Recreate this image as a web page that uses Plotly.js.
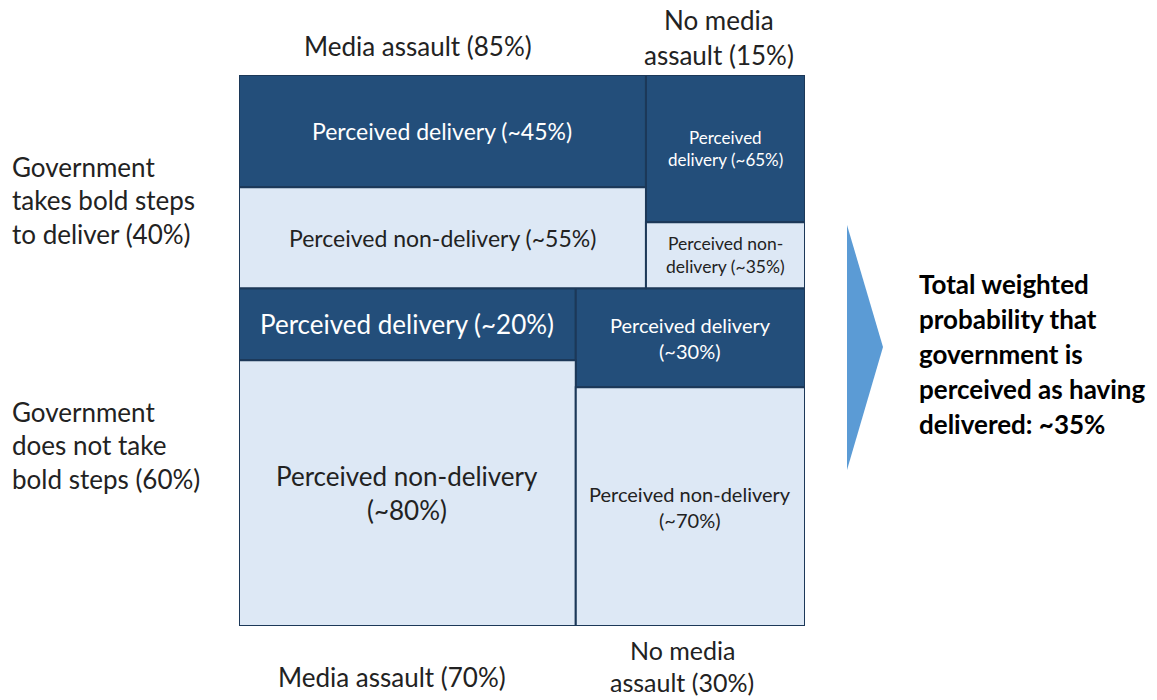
<!DOCTYPE html>
<html>
<head>
<meta charset="utf-8">
<script src="https://cdn.plot.ly/plotly-3.0.1.min.js"></script>
<style>
  html, body { margin: 0; padding: 0; background: #fff; }
  #chart { width: 1157px; height: 700px; }
</style>
</head>
<body>
<div id="chart"></div>
<script>
// --- data ---
// row heights and cell widths are the shares as drawn (in %), labels carry the stated values
const rowLabels = [
  ['Government', 'takes bold steps', 'to deliver (40%)'],
  ['Government', 'does not take', 'bold steps (60%)']
];
const rowShares = [38.7, 61.3];
const topMediaLabels = [['Media assault (85%)'], ['No media', 'assault (15%)']];
const bottomMediaLabels = [['Media assault (70%)'], ['No media', 'assault (30%)']];
const colShares = [[71.9, 28.1], [59.5, 40.5]];
const deliveryShares = [[52.6, 69.0], [21.3, 29.3]];
const deliveryLabels = [
  [['Perceived delivery (~45%)'], ['Perceived', 'delivery (~65%)']],
  [['Perceived delivery (~20%)'], ['Perceived delivery', '(~30%)']]
];
const nonDeliveryLabels = [
  [['Perceived non-delivery (~55%)'], ['Perceived non-', 'delivery (~35%)']],
  [['Perceived non-delivery', '(~80%)'], ['Perceived non-delivery', '(~70%)']]
];
const totalText = ['Total weighted', 'probability that', 'government is', 'perceived as having', 'delivered: ~35%'];

// --- styles ---
const FONT = 'Lato, "Open Sans", sans-serif';
const DARK = '#234e7a';
const LIGHT = '#dde8f5';
const EDGE = '#1c3858';
const INK = '#222';
// font size per cell [row][col]
const deliveryFont = [[23, 17], [26, 20]];
const nonDeliveryFont = [[23, 17.5], [26, 20]];
const SIDE = 26;

// paper coords of the plot box: x 239..805, y 75..626 px
const PX = px => (px - 239) / 566;
const PY = py => (626 - py) / 551;

// --- rectangles from the shares ---
const dlv = { x: [], width: [], base: [], y: [] };
const non = { x: [], width: [], base: [], y: [] };
const annotations = [];

function addLines(lines, opts) {
  const n = lines.length;
  const gap = opts.gap || opts.size * 1.3;
  lines.forEach((t, i) => {
    annotations.push({
      xref: opts.xref || 'x', yref: opts.yref || 'y',
      x: opts.x, y: opts.y,
      xanchor: opts.xanchor || 'center', yanchor: 'middle',
      yshift: -(i - (n - 1) / 2) * gap,
      text: opts.bold ? '<b>' + t + '</b>' : t,
      showarrow: false,
      font: { family: FONT, size: opts.size, color: opts.color || INK }
    });
  });
}

let y0 = 0;
rowShares.forEach((rh, r) => {
  let x0 = 0;
  colShares[r].forEach((cw, c) => {
    const dh = rh * deliveryShares[r][c] / 100;
    const cx = x0 + cw / 2;
    dlv.x.push(cx); dlv.width.push(cw); dlv.base.push(y0); dlv.y.push(dh);
    non.x.push(cx); non.width.push(cw); non.base.push(y0 + dh); non.y.push(rh - dh);
    addLines(deliveryLabels[r][c], { x: cx, y: y0 + dh / 2, size: deliveryFont[r][c], color: '#fff' });
    addLines(nonDeliveryLabels[r][c], { x: cx, y: y0 + dh + (rh - dh) / 2, size: nonDeliveryFont[r][c] });
    x0 += cw;
  });
  y0 += rh;
});

// outside labels
addLines(rowLabels[0], { xref: 'paper', yref: 'paper', x: PX(10), y: PY(200), xanchor: 'left', size: SIDE, gap: 33.5 });
addLines(rowLabels[1], { xref: 'paper', yref: 'paper', x: PX(10), y: PY(445), xanchor: 'left', size: SIDE, gap: 33.5 });
addLines(topMediaLabels[0], { xref: 'paper', yref: 'paper', x: PX(418), y: PY(46), size: SIDE });
addLines(topMediaLabels[1], { xref: 'paper', yref: 'paper', x: PX(719), y: PY(37.5), size: SIDE, gap: 35 });
addLines(bottomMediaLabels[0], { xref: 'paper', yref: 'paper', x: PX(392), y: PY(677), size: SIDE });
addLines(bottomMediaLabels[1], { xref: 'paper', yref: 'paper', x: PX(682), y: PY(666), size: 25, gap: 32 });
addLines(totalText, { xref: 'paper', yref: 'paper', x: PX(917), y: PY(354), xanchor: 'left', size: 26, gap: 35, bold: true, color: '#000' });

const traces = [
  {
    type: 'bar', name: 'Perceived delivery',
    x: dlv.x, width: dlv.width, base: dlv.base, y: dlv.y,
    marker: { color: DARK, line: { color: EDGE, width: 2 } },
    hoverinfo: 'skip'
  },
  {
    type: 'bar', name: 'Perceived non-delivery',
    x: non.x, width: non.width, base: non.base, y: non.y,
    marker: { color: LIGHT, line: { color: EDGE, width: 2 } },
    hoverinfo: 'skip'
  }
];

const layout = {
  width: 1157, height: 700,
  margin: { l: 239, r: 352, t: 75, b: 74 },
  paper_bgcolor: '#fff', plot_bgcolor: '#fff',
  barmode: 'overlay',
  showlegend: false,
  xaxis: { range: [0, 100], visible: false, fixedrange: true },
  yaxis: { range: [100, 0], visible: false, fixedrange: true },
  annotations: annotations,
  shapes: [{
    type: 'path', xref: 'paper', yref: 'paper',
    path: `M ${PX(847)} ${PY(225)} L ${PX(883)} ${PY(347)} L ${PX(847)} ${PY(470)} Z`,
    fillcolor: '#5b9bd5', line: { width: 0 }
  }]
};

Plotly.newPlot('chart', traces, layout, { displayModeBar: false, staticPlot: true });
</script>
</body>
</html>
